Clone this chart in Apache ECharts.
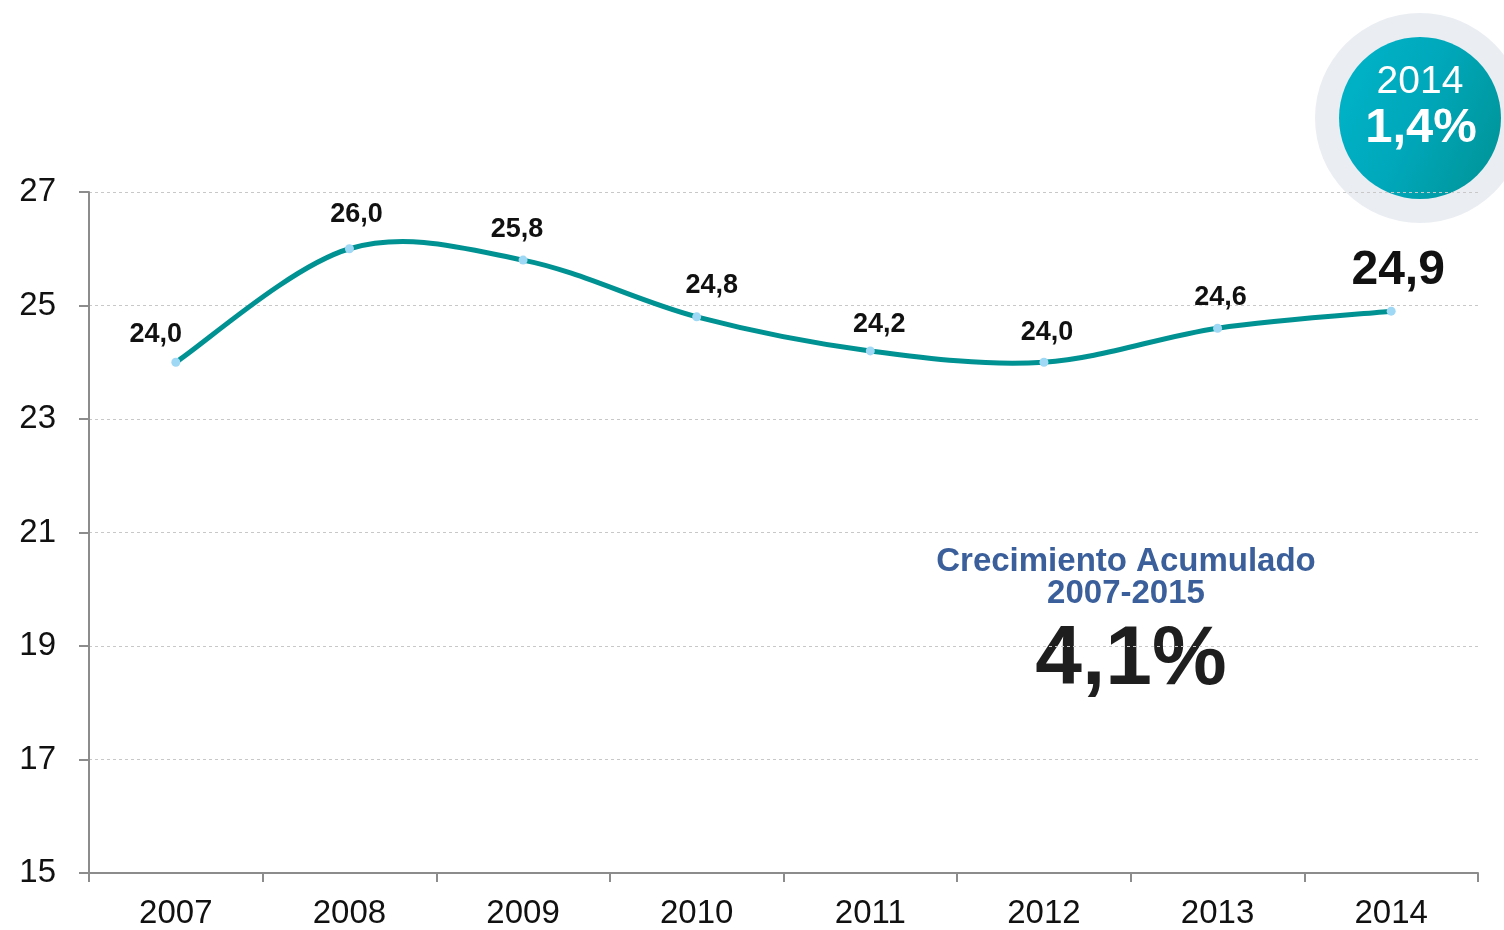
<!DOCTYPE html>
<html>
<head>
<meta charset="utf-8">
<script src="https://cdn.jsdelivr.net/npm/echarts@6/dist/echarts.min.js"></script>
<style>
  html, body { margin: 0; padding: 0; background: #fff; }
  #chart { width: 1504px; height: 930px; }
</style>
</head>
<body>
<div id="chart"></div>
<script>
const years = ['2007', '2008', '2009', '2010', '2011', '2012', '2013', '2014']
const values = [24.0, 26.0, 25.8, 24.8, 24.2, 24.0, 24.6, 24.9]
const yTicks = [15, 17, 19, 21, 23, 25, 27]
const badgeYear = '2014'
const badgeValue = '1,4%'
const noteTitle = 'Crecimiento Acumulado'
const notePeriod = '2007-2015'
const noteValue = '4,1%'

// little nudges so labels sit like in the original slide
const labelShift = [[-20, 0], [7, -6], [-6, -3], [15, -3], [9, 2], [3, -2], [3, -3], [7, 0]]

const fmt = v => v.toFixed(1).replace('.', ',')
const font = "'Liberation Sans', Arial, sans-serif"

// catmull-rom style curve (like the office "smoothed line"), goes through every point
function smoothPath(pts) {
  let d = 'M' + pts[0][0] + ' ' + pts[0][1]
  for (let i = 0; i < pts.length - 1; i++) {
    const p0 = pts[i - 1] || pts[i]
    const p1 = pts[i]
    const p2 = pts[i + 1]
    const p3 = pts[i + 2] || p2
    const c1 = [p1[0] + (p2[0] - p0[0]) / 6, p1[1] + (p2[1] - p0[1]) / 6]
    const c2 = [p2[0] - (p3[0] - p1[0]) / 6, p2[1] - (p3[1] - p1[1]) / 6]
    d += ' C' + c1.join(' ') + ' ' + c2.join(' ') + ' ' + p2.join(' ')
  }
  return d
}

const chart = echarts.init(document.getElementById('chart'))
const option = {
  animation: false,
  textStyle: { fontFamily: font },
  grid: { left: 89, right: 26, top: 192, bottom: 57 },
  xAxis: {
    type: 'category',
    data: years,
    boundaryGap: true,
    axisLine: { lineStyle: { color: '#8c8c8c', width: 2 } },
    axisTick: { show: true, alignWithLabel: false, interval: 0, length: 9, lineStyle: { color: '#8c8c8c', width: 2 } },
    axisLabel: { color: '#111', fontSize: 33, margin: 24, fontFamily: font }
  },
  yAxis: {
    type: 'value',
    min: yTicks[0],
    max: yTicks[yTicks.length - 1],
    interval: 2,
    axisLine: { show: true, lineStyle: { color: '#8c8c8c', width: 2 } },
    axisTick: { show: true, inside: false, length: 10, lineStyle: { color: '#8c8c8c', width: 2 } },
    axisLabel: { color: '#111', fontSize: 33, margin: 33, fontFamily: font },
    splitLine: { lineStyle: { color: '#c8c8c8', type: [3, 3], width: 1 } }
  },
  series: [
    {
      type: 'custom',
      data: values.map((v, i) => [i, v]),
      renderItem: function (params, api) {
        if (params.dataIndex !== 0) return
        const pts = values.map((v, i) => api.coord([i, v]))
        return {
          type: 'path',
          shape: { pathData: smoothPath(pts) },
          style: { fill: 'none', stroke: '#009193', lineWidth: 5, lineCap: 'round' }
        }
      },
      silent: true,
      z: 2
    },
    {
      type: 'line',
      data: values.map((v, i) => {
        const last = i === values.length - 1
        return {
          value: v,
          label: {
            offset: labelShift[i],
            fontSize: last ? 48 : 27,
            distance: last ? 12 : 10
          }
        }
      }),
      lineStyle: { width: 0 },
      itemStyle: { color: '#9ed8f5' },
      symbol: 'circle',
      symbolSize: 9,
      label: {
        show: true,
        position: 'top',
        color: '#111',
        fontWeight: 'bold',
        fontFamily: font,
        formatter: p => fmt(p.value)
      },
      z: 3
    }
  ],
  graphic: [
    { type: 'circle', shape: { cx: 1420, cy: 118, r: 105 }, style: { fill: '#eaedf2' } },
    {
      type: 'circle', shape: { cx: 1420, cy: 118, r: 81 },
      style: {
        fill: new echarts.graphic.LinearGradient(0, 0.3, 1, 0.75, [
          { offset: 0, color: '#00b2c7' },
          { offset: 0.45, color: '#00a8bb' },
          { offset: 1, color: '#00959a' }
        ])
      }
    },
    {
      type: 'text', x: 1420, y: 82,
      style: { text: badgeYear, fill: '#fff', font: '39px ' + font, align: 'center', verticalAlign: 'middle' }
    },
    {
      type: 'text', x: 1421, y: 128,
      style: { text: badgeValue, fill: '#fff', font: 'bold 49px ' + font, align: 'center', verticalAlign: 'middle' }
    },
    {
      type: 'text', x: 1126, y: 562,
      style: { text: noteTitle, fill: '#3a5f9a', font: 'bold 33px ' + font, align: 'center', verticalAlign: 'middle' }
    },
    {
      type: 'text', x: 1126, y: 594,
      style: { text: notePeriod, fill: '#3a5f9a', font: 'bold 33px ' + font, align: 'center', verticalAlign: 'middle' }
    },
    {
      type: 'text', x: 1131, y: 661,
      style: { text: noteValue, fill: '#1e1e1e', font: 'bold 84px ' + font, align: 'center', verticalAlign: 'middle' }
    }
  ]
}
chart.setOption(option)
</script>
</body>
</html>
